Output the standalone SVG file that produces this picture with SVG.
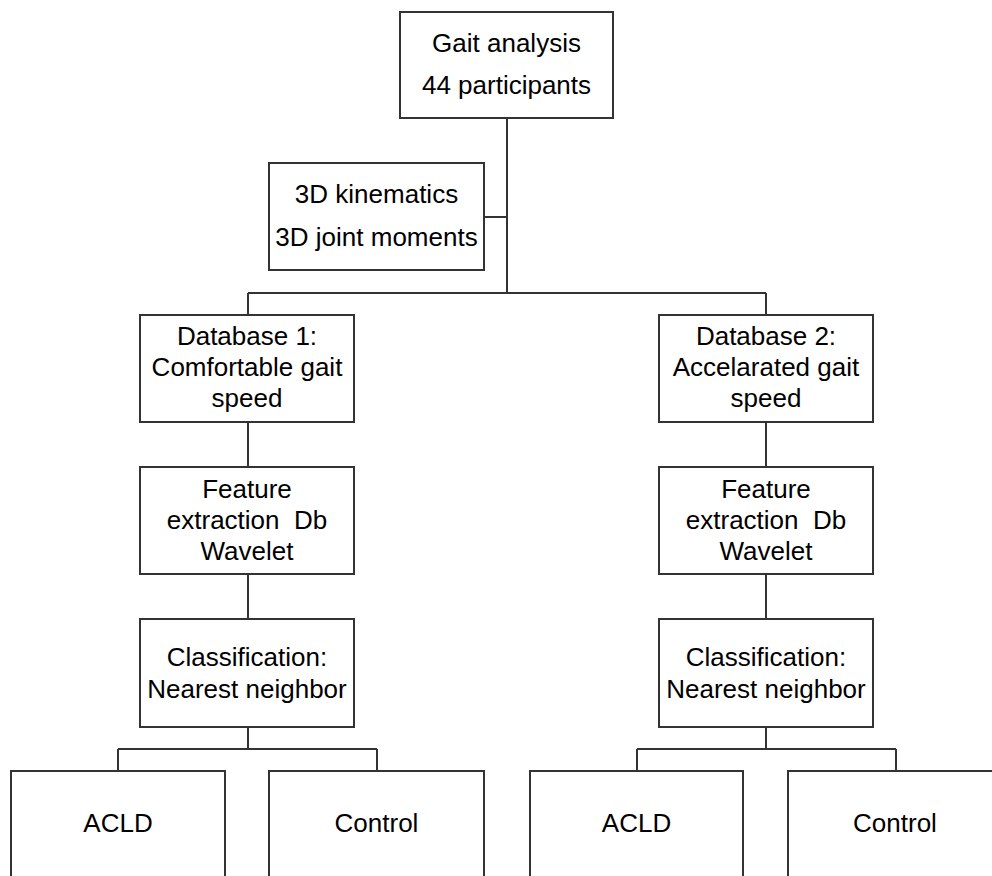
<svg xmlns="http://www.w3.org/2000/svg" width="992" height="876" viewBox="0 0 992 876">
<style>
.box{fill:#fff;stroke:#333;stroke-width:2}
.ln{fill:none;stroke:#333;stroke-width:2}
text{font-family:"Liberation Sans",Arial,sans-serif;font-size:26px;fill:#000;text-anchor:middle}
</style>
<rect width="992" height="876" fill="#fff"/>
<g id="connectors">
<path class="ln" d="M507,118V293M484,217H507M248,293H766M248,293V315M766,293V315"/>
<path class="ln" d="M248,422V467M248,574V619M248,727V749M118,749H377M118,749V771M377,749V771"/>
<path class="ln" d="M766,422V467M766,574V619M766,727V749M637,749H896M637,749V771M896,749V771"/>
</g>
<g id="gait"><rect class="box" x="400" y="12" width="213" height="106"/><text x="506.5" y="52">Gait analysis</text><text x="506.5" y="94">44 participants</text></g>
<g id="kin"><rect class="box" x="269" y="163" width="215" height="107"/><text x="376.5" y="203">3D kinematics</text><text x="376.5" y="246">3D joint moments</text></g>
<g id="db1"><rect class="box" x="140" y="315" width="214" height="107"/><text x="247" y="345">Database 1:</text><text x="247" y="376">Comfortable gait</text><text x="247" y="407">speed</text></g>
<g id="db2"><rect class="box" x="659" y="315" width="214" height="107"/><text x="766" y="345">Database 2:</text><text x="766" y="376">Accelarated gait</text><text x="766" y="407">speed</text></g>
<g id="fe1"><rect class="box" x="140" y="467" width="214" height="107"/><text x="247" y="498">Feature</text><text x="247" y="529" xml:space="preserve">extraction  Db</text><text x="247" y="560">Wavelet</text></g>
<g id="fe2"><rect class="box" x="659" y="467" width="214" height="107"/><text x="766" y="498">Feature</text><text x="766" y="529" xml:space="preserve">extraction  Db</text><text x="766" y="560">Wavelet</text></g>
<g id="cl1"><rect class="box" x="140" y="619" width="214" height="108"/><text x="247" y="666">Classification:</text><text x="247" y="698">Nearest neighbor</text></g>
<g id="cl2"><rect class="box" x="659" y="619" width="214" height="108"/><text x="766" y="666">Classification:</text><text x="766" y="698">Nearest neighbor</text></g>
<g id="acld1"><rect class="box" x="11" y="771" width="214" height="120"/><text x="118" y="832">ACLD</text></g>
<g id="ctrl1"><rect class="box" x="269" y="771" width="215" height="120"/><text x="376.5" y="832">Control</text></g>
<g id="acld2"><rect class="box" x="530" y="771" width="213" height="120"/><text x="636.5" y="832">ACLD</text></g>
<g id="ctrl2"><rect class="box" x="788" y="771" width="214" height="120"/><text x="895" y="832">Control</text></g>
</svg>
